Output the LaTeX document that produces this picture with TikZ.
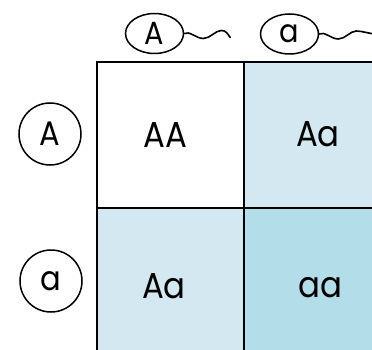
\documentclass[tikz,border=0pt]{standalone}
\usepackage{fontspec}
\setmainfont{Poppins}[FakeStretch=0.9]
\usetikzlibrary{shapes.geometric}
\definecolor{paleblue}{RGB}{211,232,240}
\definecolor{deepblue}{RGB}{179,221,233}
\tikzset{
  gridcell/.style={draw=black, line width=1.6pt, minimum width=147pt, minimum height=146pt,
    inner sep=0pt, anchor=north west},
  genotype/.style={font=\fontsize{36}{40}\selectfont, inner sep=0pt},
  allele/.style={draw=black, line width=1.5pt, circle, minimum size=62pt, inner sep=0pt,
    font=\fontsize{34}{38}\selectfont},
  gamete/.style={draw=black, line width=1.5pt, ellipse, minimum width=58pt, minimum height=40pt,
    inner sep=0pt, font=\fontsize{32}{36}\selectfont},
  tail/.style={line width=1.6pt, line cap=round}
}
\begin{document}
\begin{tikzpicture}[x=1pt,y=-1pt]
\useasboundingbox (0,0) rectangle (372,350);
\clip (0,0) rectangle (372,350);
\fill[white] (0,0) rectangle (372,350);

% Punnett square cells
\node[gridcell, fill=white]    (c11) at (96,61)  {};
\node[gridcell, fill=paleblue] (c12) at (243,61) {};
\node[gridcell, fill=paleblue] (c21) at (96,207) {};
\node[gridcell, fill=deepblue] (c22) at (243,207) {};

% offspring genotypes
\node[genotype] (g11) at (165,135) {AA};
\node[genotype] (g12) at (318,134) {Aa};
\node[genotype] (g21) at (164,286) {Aa};
\node[genotype] (g22) at (320,288) {aa};

% alleles of one parent
\node[allele] (pA) at (50,134) {A};
\node[allele] (pa) at (51,281) {a};

% gametes of the other parent
\node[gamete] (eA) at (154.5,33.5) {A};
\node[gamete] (ea) at (289.5,34) {a};

% wavy tails of the gametes
\draw[tail] (eA.east) .. controls ++(5,-3) and ++(-7,0) .. ++(19,5)
  .. controls ++(7,0) and ++(-6,0) .. ++(18,-8)
  .. controls ++(5,0) and ++(-3,-4) .. ++(9,7);
\draw[tail] (ea.east) .. controls ++(5,-3) and ++(-7,0) .. ++(19,5)
  .. controls ++(7,0) and ++(-6,0) .. ++(18,-8)
  .. controls ++(6,0) and ++(-6,0) .. ++(20,3);
\end{tikzpicture}
\end{document}
